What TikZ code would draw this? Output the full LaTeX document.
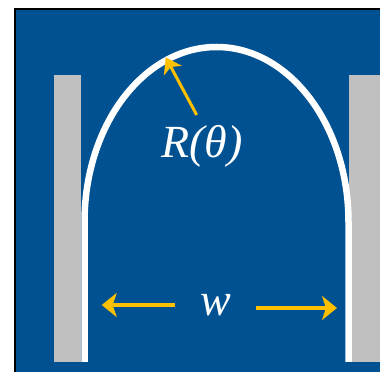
\documentclass[tikz,border=0pt]{standalone}
\usepackage{fontspec}
\setmainfont{Liberation Serif}
\usetikzlibrary{arrows.meta,positioning}
\definecolor{panelblue}{RGB}{0,81,145}
\definecolor{wallgray}{RGB}{192,192,192}
\definecolor{arrowgold}{RGB}{255,192,0}

\begin{document}
\begin{tikzpicture}[
    x=1pt, y=1pt,
    wall/.style={fill=wallgray, draw=none},
    bubble/.style={draw=white, line width=6.5pt},
    label/.style={text=white, font=\fontsize{46}{46}\selectfont\itshape, inner sep=0pt},
    arrow/.style={draw=arrowgold, line width=4pt, -{Stealth[length=15pt,width=24pt,inset=4pt]}},
    radarrow/.style={draw=arrowgold, line width=3pt, -{Stealth[length=15pt,width=20pt,inset=4pt]}}
]
\useasboundingbox (0,0) rectangle (380,372);

% Background
\fill[panelblue] (15,0) rectangle (380,362.5);
\draw[line width=2pt] (15,0) -- (15,362.5) -- (380,362.5);

% Walls
\fill[wall] (54,10) rectangle (81,297);
\fill[wall] (349,10) rectangle (380,297);

% Bubble
\draw[bubble] (84.5,10) -- (84.5,150)
    arc[start angle=180, end angle=0, x radius=132pt, y radius=175pt]
    -- (348.5,10);

% Labels
\node[label, anchor=base] (rlabel) at (202,214) {R(θ)};
\node[label, anchor=base] (wlabel) at (216,56) {w};

% Arrows
\coordinate (rtail) at (196.7,257);
\coordinate (rtip) at (165.7,314.7);
\coordinate (wltail) at (175,67);
\coordinate (wltip) at (101.7,67);
\coordinate (wrtail) at (256,64);
\coordinate (wrtip) at (337,64);
\draw[radarrow] (rtail) -- (rtip);
\draw[arrow] (wltail) -- (wltip);
\draw[arrow] (wrtail) -- (wrtip);

\end{tikzpicture}
\end{document}
